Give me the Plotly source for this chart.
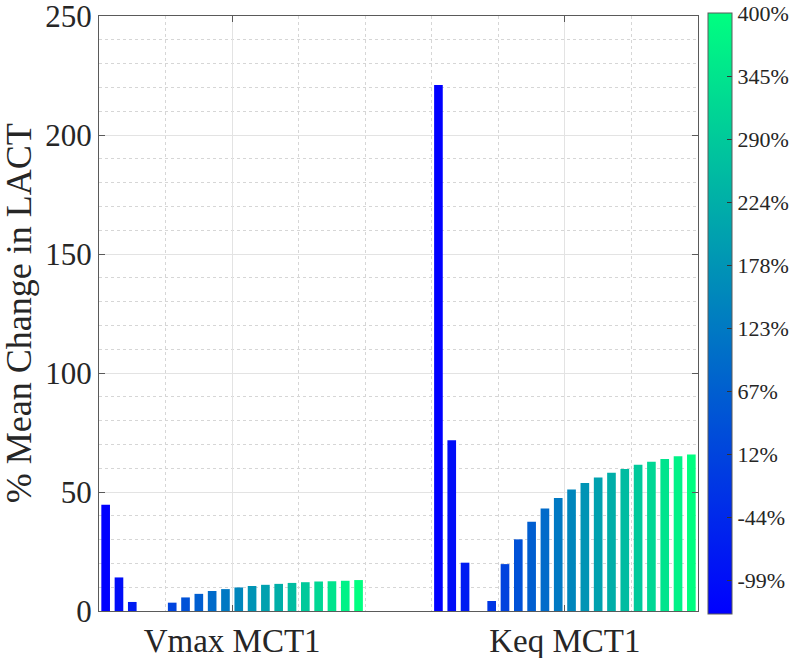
import numpy as np
import plotly.graph_objects as go

# ---- data ----
parameters = ["Vmax MCT1", "Keq MCT1"]
vmax_mct1 = [44.6, 14.1, 3.8, 0.0, 0.0, 3.5, 5.7, 7.2, 8.4, 9.2,
             9.9, 10.5, 11.0, 11.4, 11.8, 12.1, 12.4, 12.5, 12.7, 13.0]
keq_mct1 = [221.0, 71.7, 20.3, 0.0, 4.2, 19.7, 30.1, 37.5, 43.1, 47.5,
            51.0, 53.8, 56.1, 58.1, 59.7, 61.4, 62.7, 63.9, 65.0, 65.8]
perturbation_labels = ["-99%", "-44%", "12%", "67%", "123%",
                       "178%", "224%", "290%", "345%", "400%"]
y_tick_values = [0, 50, 100, 150, 200, 250]
y_title = "% Mean Change in LACT"

# ---- styling ----
FONT = "Liberation Serif"
TXT = "#262626"
AXC = "#5a5a5a"
GRID = "#e3e3e3"
MINOR_GRID = "#d6d6d6"
winter = [[0.0, "rgb(0,0,255)"], [1.0, "rgb(0,255,128)"]]

n = len(vmax_mct1)
x_pos = [1, 2]

fig = go.Figure()
for i in range(n):
    level = i / (n - 1)
    fig.add_trace(go.Bar(
        x=x_pos,
        y=[vmax_mct1[i], keq_mct1[i]],
        marker=dict(color=[level, level], coloraxis="coloraxis", line=dict(width=0)),
        showlegend=False,
        hoverinfo="y",
    ))

cb_ticks = list(np.linspace(1 / 18, 1, len(perturbation_labels)))

fig.update_layout(
    width=791, height=658,
    margin=dict(l=99, r=93, t=16, b=47, autoexpand=False),
    paper_bgcolor="white", plot_bgcolor="white",
    barmode="group", bargap=0.2, bargroupgap=0.35,
    font=dict(family=FONT, color=TXT, size=33),
    coloraxis=dict(
        colorscale=winter, cmin=0, cmax=1,
        colorbar=dict(
            x=1.0167, xanchor="left", xpad=0,
            y=0.5, yanchor="middle", ypad=0,
            len=1.01, lenmode="fraction",
            thickness=24, thicknessmode="pixels",
            outlinewidth=1, outlinecolor=AXC,
            tickvals=cb_ticks, ticktext=perturbation_labels,
            ticks="inside", ticklen=5, tickcolor="#333333",
            tickfont=dict(family=FONT, size=22, color=TXT),
        ),
    ),
    xaxis=dict(
        range=[0.6, 2.4], tickvals=x_pos, ticktext=parameters,
        ticks="inside", ticklen=6, tickcolor=AXC,
        showline=True, linecolor=AXC, linewidth=1, mirror="ticks",
        showgrid=True, gridcolor=GRID, gridwidth=1, zeroline=False,
        minor=dict(dtick=0.2, tick0=0, showgrid=True, gridcolor=MINOR_GRID,
                   griddash="dot", gridwidth=1, ticks=""),
        tickfont=dict(family=FONT, size=33, color=TXT),
        layer="below traces", ticklabeloverflow="allow",
    ),
    yaxis=dict(
        range=[0, 250], tickvals=y_tick_values,
        ticks="inside", ticklen=6, tickcolor=AXC,
        showline=True, linecolor=AXC, linewidth=1, mirror="ticks",
        showgrid=True, gridcolor=GRID, gridwidth=1, zeroline=False,
        minor=dict(dtick=10, tick0=0, showgrid=True, gridcolor=MINOR_GRID,
                   griddash="dot", gridwidth=1, ticks=""),
        tickfont=dict(family=FONT, size=31, color=TXT),
        ticklabeloverflow="allow",
    ),
    annotations=[dict(
        text=y_title, textangle=-90, showarrow=False,
        xref="paper", yref="paper", x=-0.134, y=0.5,
        xanchor="center", yanchor="middle",
        font=dict(family=FONT, size=36, color=TXT),
    )],
)

fig.write_html(
    "out.html",
    config={"displayModeBar": False},
    post_script="document.body.style.margin='0';document.body.style.overflow='hidden';",
)
